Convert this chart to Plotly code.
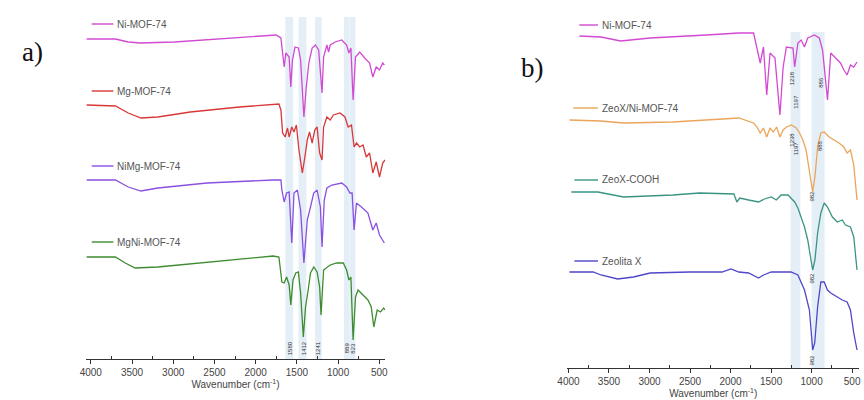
import plotly.graph_objects as go

# ---------------- data ----------------
# Panel a: wavenumber (cm-1) and offset transmittance (a.u.)
NI_A_WN = [4050, 3701, 3546, 3400, 2984, 2196, 1753, 1694, 1673, 1654, 1634, 1594, 1574, 1554, 1523, 1482,
           1455, 1415, 1386, 1355, 1315, 1275, 1236, 1195, 1176, 1136, 1116, 1096, 1036, 956, 897, 869,
           845, 818, 789, 738, 678, 618, 579, 538, 498, 459, 439]
NI_A_T = [320, 320, 317, 316, 317, 321, 324, 321, 306, 292, 306, 302, 272, 299, 312, 311,
          299, 242, 272, 296, 311, 314, 309, 266, 302, 314, 307, 314, 317, 319, 314, 306,
          311, 259, 302, 307, 301, 296, 282, 292, 289, 296, 294]

MG_A_WN = [4050, 3701, 3546, 3391, 3187, 2793, 2196, 1718, 1694, 1673, 1642, 1614, 1594, 1562, 1535,
           1506, 1475, 1434, 1403, 1374, 1347, 1315, 1283, 1255, 1224, 1195, 1176, 1136, 1096, 1057,
           977, 917, 878, 838, 806, 777, 738, 698, 658, 618, 579, 538, 498, 459, 431]
MG_A_T = [254, 253, 246, 241, 242, 247, 252, 255, 249, 226, 222, 231, 222, 232, 227,
          234, 209, 186, 202, 219, 227, 216, 229, 232, 206, 199, 232, 242, 239, 244,
          246, 242, 232, 234, 212, 216, 212, 214, 202, 206, 186, 197, 182, 196, 199]

NIMG_A_WN = [4050, 3701, 3546, 3391, 3187, 2590, 1789, 1694, 1682, 1654, 1625, 1594, 1562, 1535, 1494,
             1455, 1415, 1374, 1335, 1296, 1255, 1215, 1195, 1168, 1136, 1076, 956, 897, 857, 830,
             806, 777, 717, 638, 579, 538, 498, 439]
NIMG_A_T = [179, 179, 172, 168, 171, 176, 179, 179, 169, 157, 166, 167, 116, 166, 169,
            149, 96, 139, 152, 166, 169, 152, 112, 159, 171, 174, 176, 172, 166, 166,
            129, 156, 152, 146, 129, 136, 124, 116]

MGNI_A_WN = [4050, 3701, 3582, 3462, 3187, 2590, 1789, 1718, 1682, 1654, 1625, 1594, 1574, 1547, 1514,
             1482, 1455, 1422, 1395, 1363, 1335, 1295, 1255, 1224, 1207, 1176, 1136, 1096, 1016, 937,
             897, 869, 845, 818, 789, 758, 698, 638, 598, 567, 526, 487, 447, 431]
MGNI_A_T = [102, 102, 96, 91, 92, 97, 103, 102, 77, 76, 82, 74, 54, 79, 86,
            87, 66, 22, 52, 69, 86, 92, 87, 72, 44, 89, 92, 94, 96, 96,
            89, 79, 82, 19, 62, 69, 64, 59, 52, 32, 49, 47, 51, 49]

# Panel b
NI_B_WN = [3866, 3599, 3356, 2992, 2299, 1898, 1716, 1634, 1594, 1554, 1513, 1452, 1391, 1351, 1311,
           1230, 1209, 1169, 1129, 1088, 1048, 966, 905, 865, 804, 764, 704, 643, 602, 562, 521, 480, 440]
NI_B_T = [332, 331, 327, 330, 333, 335, 335, 305, 321, 273, 315, 310, 253, 301, 321,
          320, 301, 325, 328, 321, 330, 333, 330, 318, 268, 315, 310, 305, 298, 293, 303, 301, 306]

ZEONI_B_WN = [3988, 3599, 3320, 2712, 1898, 1716, 1675, 1634, 1594, 1554, 1513, 1473, 1432, 1391, 1351,
              1311, 1250, 1190, 1149, 1108, 1068, 1027, 987, 959, 926, 886, 845, 784, 723, 662,
              602, 562, 521, 480, 440]
ZEONI_B_T = [248, 247, 245, 246, 250, 245, 241, 235, 240, 231, 240, 236, 241, 231, 238,
             241, 243, 240, 235, 228, 218, 195, 176, 191, 221, 235, 236, 231, 228, 225,
             221, 215, 218, 203, 168]

ZEOCOOH_B_WN = [3964, 3636, 3320, 2712, 2384, 1959, 1922, 1886, 1777, 1655, 1582, 1497, 1436, 1376, 1291,
                1209, 1169, 1129, 1088, 1048, 1007, 987, 959, 926, 886, 845, 804, 744, 683, 622,
                582, 521, 480, 440]
ZEOCOOH_B_T = [176, 176, 171, 173, 175, 174, 166, 170, 168, 166, 169, 171, 168, 173, 173,
               166, 160, 150, 141, 128, 108, 98, 108, 135, 155, 165, 161, 151, 146, 148,
               143, 141, 131, 98]

ZEOX_B_WN = [3988, 3696, 3599, 3393, 3198, 2992, 2506, 2105, 1995, 1898, 1777, 1655, 1594, 1497, 1254,
             1169, 1088, 1027, 987, 962, 926, 886, 845, 804, 764, 683, 622, 562, 521, 480, 440]
ZEOX_B_T = [96, 96, 93, 89, 91, 95, 96, 96, 99, 96, 95, 90, 93, 96, 96,
            93, 78, 58, 18, 25, 61, 86, 86, 78, 75, 71, 68, 66, 58, 35, 18]

SERIES_A = ["Ni-MOF-74", "Mg-MOF-74", "NiMg-MOF-74", "MgNi-MOF-74"]
SERIES_B = ["Ni-MOF-74", "ZeoX/Ni-MOF-74", "ZeoX-COOH", "Zeolita X"]

BANDS_A = [(1640, 1545), (1480, 1385), (1280, 1200), (930, 862), (858, 790)]
PEAKS_A = ["1580", "1412", "1241", "889", "823"]
PEAK_WN_A = [1580, 1412, 1241, 889, 823]

BANDS_B = [(1260, 1140), (1000, 840)]
PEAKS_B = ["1238", "1197", "886", "1238", "1197", "886", "982", "982", "982"]
PEAK_WN_B = [1238, 1197, 886, 1246, 1190, 895, 1000, 1000, 1000]

TICKS = [4000, 3500, 3000, 2500, 2000, 1500, 1000, 500]
MINOR = [3750, 3250, 2750, 2250, 1750, 1250, 750]

# ---------------- styling ----------------
W, H = 864, 400
COL_A = ["#d24ad2", "#d83838", "#8a50e0", "#3e8c30"]
COL_B = ["#d24ad2", "#eaa55a", "#3a9484", "#4f46c8"]
TXT = "#555555"


def px(p):
    return p / W


def py(p):
    return 1 - p / H


fig = go.Figure()

data_a = [(NI_A_WN, NI_A_T), (MG_A_WN, MG_A_T), (NIMG_A_WN, NIMG_A_T), (MGNI_A_WN, MGNI_A_T)]
data_b = [(NI_B_WN, NI_B_T), (ZEONI_B_WN, ZEONI_B_T), (ZEOCOOH_B_WN, ZEOCOOH_B_T), (ZEOX_B_WN, ZEOX_B_T)]

for (wn, t), name, c in zip(data_a, SERIES_A, COL_A):
    fig.add_trace(go.Scatter(x=wn, y=t, mode="lines", name=name, line=dict(color=c, width=1.3),
                             xaxis="x", yaxis="y", showlegend=False))
for (wn, t), name, c in zip(data_b, SERIES_B, COL_B):
    fig.add_trace(go.Scatter(x=wn, y=t, mode="lines", name=name, line=dict(color=c, width=1.3),
                             xaxis="x2", yaxis="y2", showlegend=False))

BAND_FILL = "rgba(185,212,232,0.4)"
shapes = []
for lo, hi in BANDS_A:
    shapes.append(dict(type="rect", xref="x", yref="paper", x0=lo, x1=hi, y0=py(359), y1=py(17),
                       fillcolor=BAND_FILL, line=dict(width=0), layer="below"))
for lo, hi in BANDS_B:
    shapes.append(dict(type="rect", xref="x2", yref="paper", x0=lo, x1=hi, y0=py(368), y1=py(32),
                       fillcolor=BAND_FILL, line=dict(width=0), layer="below"))

annotations = []
# per-curve labels with short line samples
leg_a_y = [24, 91, 166, 242]
for name, c, yy in zip(SERIES_A, COL_A, leg_a_y):
    shapes.append(dict(type="line", xref="paper", yref="paper", x0=px(83), x1=px(105), y0=py(yy), y1=py(yy),
                       line=dict(color=c, width=1.4)))
    annotations.append(dict(text=name, xref="paper", yref="paper", x=px(107), y=py(yy), xanchor="left",
                            yanchor="middle", showarrow=False, font=dict(family="Liberation Sans", size=10, color=TXT)))
leg_b_y = [25, 108, 180, 261]
leg_b_x0 = [578, 572, 573, 573]
for name, c, yy, x0 in zip(SERIES_B, COL_B, leg_b_y, leg_b_x0):
    shapes.append(dict(type="line", xref="paper", yref="paper", x0=px(x0), x1=px(597), y0=py(yy), y1=py(yy),
                       line=dict(color=c, width=1.4)))
    annotations.append(dict(text=name, xref="paper", yref="paper", x=px(599), y=py(yy), xanchor="left",
                            yanchor="middle", showarrow=False, font=dict(family="Liberation Sans", size=10, color=TXT)))

# peak labels
for txt, wn in zip(PEAKS_A, PEAK_WN_A):
    annotations.append(dict(text=txt, xref="x", yref="paper", x=wn, y=py(348), textangle=-90,
                            xanchor="center", yanchor="middle",
                            showarrow=False, font=dict(family="Liberation Sans", size=6, color="#333")))
peak_b_y = [78, 102, 82, 140, 148, 146, 196, 278, 360]
for txt, wn, yy in zip(PEAKS_B, PEAK_WN_B, peak_b_y):
    annotations.append(dict(text=txt, xref="x2", yref="paper", x=wn, y=py(yy), textangle=-90,
                            xanchor="center", yanchor="middle",
                            showarrow=False, font=dict(family="Liberation Sans", size=6, color="#333")))

# panel letters
annotations.append(dict(text="a)", xref="paper", yref="paper", x=px(23), y=py(52), showarrow=False,
                        xanchor="center", yanchor="middle",
                        font=dict(family="Liberation Serif", size=27, color="#111")))
annotations.append(dict(text="b)", xref="paper", yref="paper", x=px(530), y=py(68), showarrow=False,
                        xanchor="center", yanchor="middle",
                        font=dict(family="Liberation Serif", size=27, color="#111")))

axis_common = dict(tickvals=TICKS, ticks="outside", ticklen=4, tickcolor="#333", showline=True,
                   linecolor="#333", linewidth=1, showgrid=False, zeroline=False,
                   tickfont=dict(family="Liberation Sans", size=10, color="#444"),
                   minor=dict(tickvals=MINOR, ticks="inside", ticklen=3, tickcolor="#333"),
                   title=dict(text="Wavenumber (cm<sup>-1</sup>)",
                              font=dict(family="Liberation Sans", size=10, color="#444"), standoff=2))

fig.update_layout(
    width=W, height=H, autosize=False,
    margin=dict(l=0, r=0, t=0, b=0),
    paper_bgcolor="white", plot_bgcolor="white",
    xaxis=dict(domain=[px(77), px(381)], range=[4060, 428], anchor="y", **axis_common),
    yaxis=dict(domain=[py(359), 1], range=[0, 359], visible=False),
    xaxis2=dict(domain=[px(566), px(862)], range=[4012, 415], anchor="y2", **axis_common),
    yaxis2=dict(domain=[py(368), 1], range=[0, 368], visible=False),
    shapes=shapes, annotations=annotations,
)

fig.write_html("out.html")
